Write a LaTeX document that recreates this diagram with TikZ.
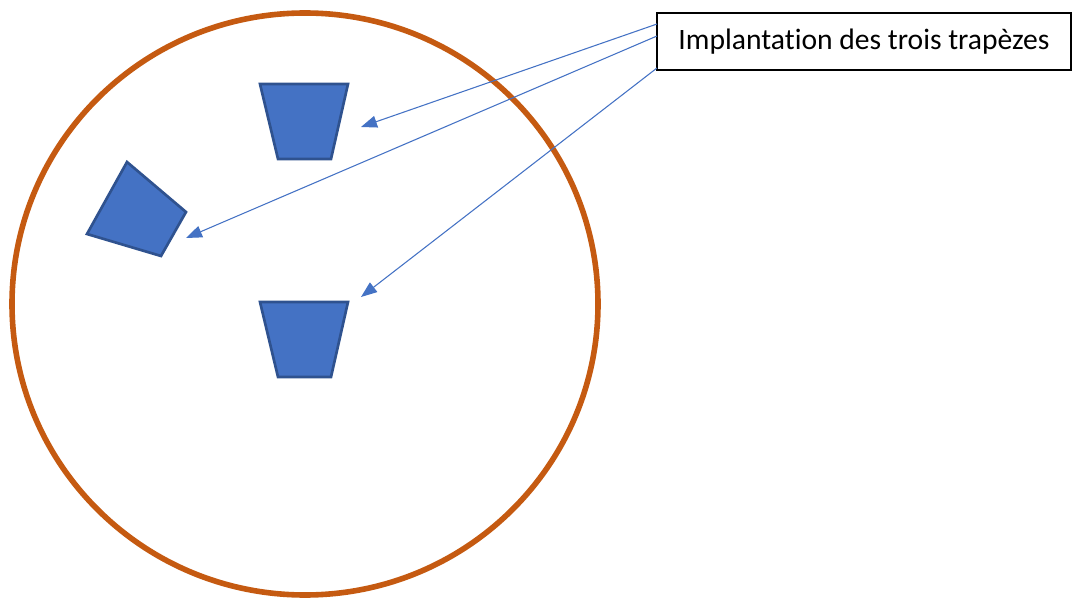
\documentclass[tikz,border=0pt]{standalone}
\usepackage{fontspec}
\setmainfont[RawFeature={-liga;-dlig;-clig}]{Carlito}
\usetikzlibrary{arrows.meta}
\definecolor{ring}{HTML}{C55A11}
\definecolor{trapfill}{HTML}{4472C4}
\definecolor{trapline}{HTML}{2F528F}
\tikzset{
  trap/.style={fill=trapfill,draw=trapline,line width=2pt,line join=miter},
  pointer/.style={draw=trapfill,line width=0.8pt,-{Triangle[length=12pt,width=9pt]}},
  label/.style={draw=black,line width=1.5pt,fill=white,minimum width=414*0.75pt,minimum height=57*0.75pt,inner sep=0pt,font=\fontsize{22.2}{26}\selectfont}
}
\begin{document}
\begin{tikzpicture}[x=0.75pt,y=-0.75pt]
\useasboundingbox (0,0) rectangle (1072,599);
\draw[ring,line width=4.2pt] (305,304) ellipse (293 and 291);
\draw[trap] (260,84) -- (348,84) -- (331,159) -- (278,159) -- cycle;
\draw[trap] (127,162) -- (186,212) -- (161,256) -- (87,234) -- cycle;
\draw[trap] (260,302) -- (348,302) -- (331,377) -- (278,377) -- cycle;
\node[label] (box) at (864,41.5) {Implantation des trois trapèzes};
\coordinate (s1) at (657,24);
\coordinate (s2) at (657,36);
\coordinate (s3) at (657,68);
\coordinate (t1) at (361,127);
\coordinate (t2) at (186,238);
\coordinate (t3) at (361,297);
\draw[pointer] (s1) -- (t1);
\draw[pointer] (s2) -- (t2);
\draw[pointer] (s3) -- (t3);
\end{tikzpicture}
\end{document}
